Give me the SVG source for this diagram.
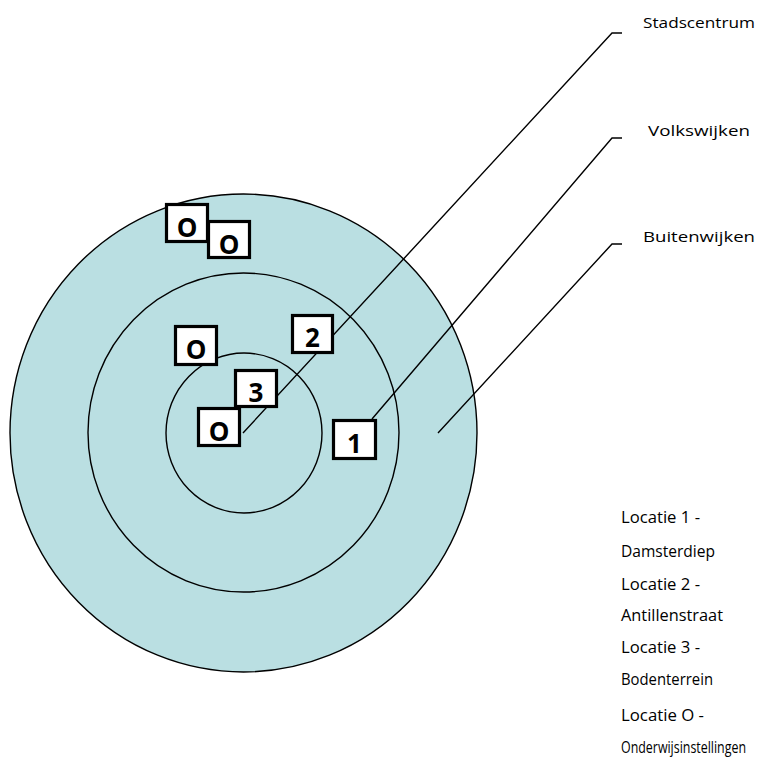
<svg xmlns="http://www.w3.org/2000/svg" width="758" height="774" viewBox="0 0 758 774">
<style>
.ring{fill:#BADFE2;stroke:#000;stroke-width:1.4}
.lead{fill:none;stroke:#000;stroke-width:1.4}
.box rect{fill:#fff;stroke:#000;stroke-width:3.2}
.box text{font-family:"Open Sans","Noto Sans",sans-serif;font-weight:bold;font-size:26px;text-anchor:middle;fill:#000}
.lbl{font-family:"Open Sans","Noto Sans",sans-serif;font-size:14px;fill:#000;font-variant-ligatures:none}
.leg{font-family:"Open Sans","Noto Sans",sans-serif;font-size:16px;fill:#000;font-variant-ligatures:none}
</style>
<rect width="758" height="774" fill="#fff"/>
<g id="rings">
<ellipse id="ring-outer" class="ring" cx="243.5" cy="433" rx="233.5" ry="239"/>
<ellipse id="ring-middle" class="ring" cx="243.5" cy="432.5" rx="155.5" ry="159.5"/>
<ellipse id="ring-inner" class="ring" cx="244" cy="433" rx="78" ry="80"/>
</g>
<g id="connectors">
<polyline class="lead" points="243,433 612,33 622,33"/>
<polyline class="lead" points="372,419 612,138 622,138"/>
<polyline class="lead" points="438,433 612,244 622,244"/>
</g>
<g id="box-o1" class="box"><rect x="166.5" y="204.5" width="41" height="37"/><text x="187" y="237">O</text></g>
<g id="box-o2" class="box"><rect x="208.5" y="221.5" width="41" height="36"/><text x="229" y="254">O</text></g>
<g id="box-o3" class="box"><rect x="175.5" y="326.5" width="41" height="38"/><text x="196" y="359">O</text></g>
<g id="box-2" class="box"><rect x="292.5" y="315.5" width="40" height="37"/><text x="312.5" y="347">2</text></g>
<g id="box-3" class="box"><rect x="235.5" y="370.5" width="41" height="36"/><text x="256" y="402">3</text></g>
<g id="box-o4" class="box"><rect x="198.5" y="408.5" width="41" height="37"/><text x="219" y="441">O</text></g>
<g id="box-1" class="box"><rect x="333.5" y="420.5" width="42" height="38"/><text x="354.5" y="453">1</text></g>
<g id="labels">
<text class="lbl" x="643" y="28" textLength="112" lengthAdjust="spacingAndGlyphs">Stadscentrum</text>
<text class="lbl" x="648" y="136" textLength="102" lengthAdjust="spacingAndGlyphs">Volkswijken</text>
<text class="lbl" x="643" y="242" textLength="112" lengthAdjust="spacingAndGlyphs">Buitenwijken</text>
</g>
<g id="legend">
<text class="leg" x="621" y="523" textLength="79" lengthAdjust="spacingAndGlyphs">Locatie 1 -</text>
<text class="leg" x="621" y="557" textLength="94" lengthAdjust="spacingAndGlyphs">Damsterdiep</text>
<text class="leg" x="621" y="590" textLength="79" lengthAdjust="spacingAndGlyphs">Locatie 2 -</text>
<text class="leg" x="621" y="621" textLength="102" lengthAdjust="spacingAndGlyphs">Antillenstraat</text>
<text class="leg" x="621" y="653" textLength="79" lengthAdjust="spacingAndGlyphs">Locatie 3 -</text>
<text class="leg" x="621" y="685" textLength="92" lengthAdjust="spacingAndGlyphs">Bodenterrein</text>
<text class="leg" x="621" y="721" textLength="83" lengthAdjust="spacingAndGlyphs">Locatie O -</text>
<text class="leg" x="621" y="753" textLength="125" lengthAdjust="spacingAndGlyphs">Onderwijsinstellingen</text>
</g>
</svg>
